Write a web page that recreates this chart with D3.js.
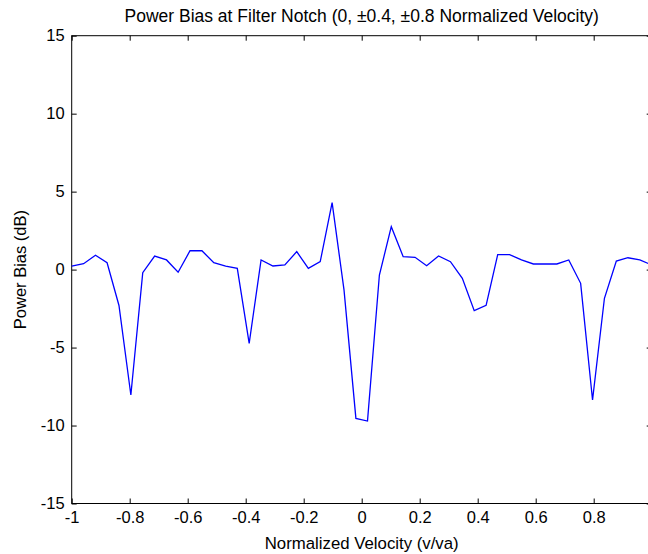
<!DOCTYPE html>
<html>

<head>
  <meta charset="utf-8">
  <title>Power Bias at Filter Notch</title>
  <script src="https://d3js.org/d3.v7.min.js"></script>
  <style>
    body { margin: 0; background: #fff; }
    text { font-family: "Liberation Sans", Arial, sans-serif; fill: #000; }
  </style>
</head>

<body>
  <div id="vis"></div>
  <script>

    // normalized velocity samples (50 points from -1 to 1)
    const velocity = [
      -1, -0.959, -0.918, -0.878, -0.837, -0.796, -0.755, -0.714, -0.673, -0.633,
      -0.592, -0.551, -0.510, -0.469, -0.429, -0.388, -0.347, -0.306, -0.265, -0.224,
      -0.184, -0.143, -0.102, -0.061, -0.020, 0.020, 0.061, 0.102, 0.143, 0.184,
      0.224, 0.265, 0.306, 0.347, 0.388, 0.429, 0.469, 0.510, 0.551, 0.592,
      0.633, 0.673, 0.714, 0.755, 0.796, 0.837, 0.878, 0.918, 0.959, 1
    ]

    // power bias in dB
    const powerBias = [
      0.23, 0.38, 0.92, 0.44, -2.3, -8.04, -0.2, 0.87, 0.62, -0.17,
      1.21, 1.21, 0.44, 0.23, 0.08, -4.73, 0.62, 0.23, 0.3, 1.15,
      0.08, 0.51, 4.29, -1.3, -9.54, -9.71, -0.35, 2.75, 0.83, 0.79,
      0.25, 0.87, 0.51, -0.56, -2.63, -2.29, 0.96, 0.96, 0.62, 0.36,
      0.36, 0.36, 0.62, -0.88, -8.36, -1.84, 0.55, 0.76, 0.62, 0.3
    ]

    const xTicks = [-1, -0.8, -0.6, -0.4, -0.2, 0, 0.2, 0.4, 0.6, 0.8]
    const yTicks = [-15, -10, -5, 0, 5, 10, 15]

    const width = 648
    const height = 554
    const margin = { top: 35.7, right: -3.7, bottom: 50.5, left: 71.7 }
    const innerW = width - margin.left - margin.right
    const innerH = height - margin.top - margin.bottom

    const data = velocity.map((v, i) => ({ x: v, y: powerBias[i] }))

    const x = d3.scaleLinear().domain([-1, 1]).range([0, innerW])
    const y = d3.scaleLinear().domain([-15, 15]).range([innerH, 0])

    const fmt = d => String(+d.toFixed(1))

    const svg = d3.select("#vis")
      .append("svg")
      .attr("width", width)
      .attr("height", height)

    const g = svg.append("g")
      .attr("transform", `translate(${margin.left},${margin.top})`)

    // bottom axis, ticks pointing inward
    g.append("g")
      .attr("transform", `translate(0,${innerH})`)
      .call(d3.axisBottom(x).tickValues(xTicks).tickSize(-5).tickPadding(8).tickFormat(fmt))
    // top axis, ticks only
    g.append("g")
      .call(d3.axisTop(x).tickValues(xTicks).tickSize(-5).tickFormat(""))

    g.append("g")
      .call(d3.axisLeft(y).tickValues(yTicks).tickSize(-5).tickPadding(7).tickFormat(fmt))
    g.append("g")
      .attr("transform", `translate(${innerW},0)`)
      .call(d3.axisRight(y).tickValues(yTicks).tickSize(-5).tickFormat(""))

    svg.selectAll(".domain").remove()
    svg.selectAll(".tick line").attr("stroke", "#000")
    svg.selectAll(".tick text")
      .style("font-family", '"Liberation Sans", Arial, sans-serif')
      .style("font-size", "16.5px")
      .attr("fill", "#000")

    // box
    g.append("rect")
      .attr("x", 0)
      .attr("y", 0)
      .attr("width", innerW)
      .attr("height", innerH)
      .attr("fill", "none")
      .attr("stroke", "#000")
      .attr("stroke-width", 1)

    const line = d3.line()
      .x(d => x(d.x))
      .y(d => y(d.y))

    g.append("path")
      .datum(data)
      .attr("fill", "none")
      .attr("stroke", "#0000ff")
      .attr("stroke-width", 1.3)
      .attr("d", line)

    svg.append("text")
      .attr("x", margin.left + innerW / 2)
      .attr("y", 22)
      .attr("text-anchor", "middle")
      .style("font-size", "17.5px")
      .text("Power Bias at Filter Notch (0, ±0.4, ±0.8 Normalized Velocity)")

    svg.append("text")
      .attr("x", margin.left + innerW / 2)
      .attr("y", 549)
      .attr("text-anchor", "middle")
      .style("font-size", "16.8px")
      .text("Normalized Velocity (v/va)")

    svg.append("text")
      .attr("transform", `translate(26,${margin.top + innerH / 2}) rotate(-90)`)
      .attr("text-anchor", "middle")
      .style("font-size", "16.5px")
      .text("Power Bias (dB)")
  </script>
</body>

</html>
